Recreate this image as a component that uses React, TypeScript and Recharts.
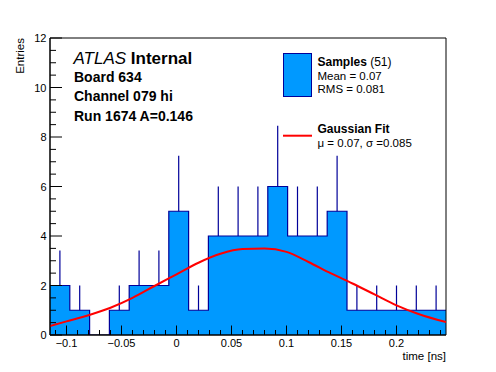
import {
  ComposedChart,
  Area,
  Line,
  Scatter,
  ErrorBar,
  XAxis,
  YAxis,
  ReferenceArea,
} from "recharts"

const FONT = "'Liberation Sans', Arial, Helvetica, sans-serif"
const FILL = "#0099ff"
const NAVY = "#000099"

/* histogram: 20 bins over [-0.115, 0.245] */
const binEdges = [
  -0.115, -0.097, -0.079, -0.061, -0.043, -0.025, -0.007, 0.011, 0.029, 0.047,
  0.065, 0.083, 0.101, 0.119, 0.137, 0.155, 0.173, 0.191, 0.209, 0.227, 0.245,
]
const binCounts = [2, 1, 0, 1, 2, 2, 5, 1, 4, 4, 4, 6, 4, 4, 5, 1, 1, 1, 1, 1]
const binErrUp = [
  1.41, 1, 0, 1, 1.41, 1.41, 2.24, 1, 2, 2, 2, 2.45, 2, 2, 2.24, 1, 1, 1, 1, 1,
]

/* gaussian fit curve */
const fitX = [
  -0.115, -0.1, -0.08, -0.06, -0.04, -0.02, 0, 0.02, 0.04, 0.06, 0.08, 0.1,
  0.12, 0.14, 0.16, 0.18, 0.2, 0.22, 0.245,
]
const fitY = [
  0.36, 0.55, 0.8, 1.1, 1.5, 1.98, 2.45, 2.92, 3.28, 3.47, 3.49, 3.36, 2.95,
  2.5, 2.08, 1.64, 1.2, 0.85, 0.52,
]

const xDomain = [-0.115, 0.245]
const yDomain = [0, 12]
const xMajorTicks = [-0.1, -0.05, 0, 0.05, 0.1, 0.15, 0.2]
const yMajorTicks = [0, 2, 4, 6, 8, 10, 12]

const xTicks: number[] = []
for (let i = -11; i <= 24; i++) xTicks.push(i / 100)
const yTicks: number[] = []
for (let i = 0; i <= 24; i++) yTicks.push(i / 2)

const histData = binEdges.map((x, i) => ({
  x,
  y: i < binCounts.length ? binCounts[i] : binCounts[binCounts.length - 1],
}))
const errData = binCounts.map((c, i) => ({
  x: (binEdges[i] + binEdges[i + 1]) / 2,
  y: c,
  err: [0, binErrUp[i]],
}))
const fitData = fitX.map((x, i) => ({ x, y: fitY[i] }))

const near = (a: number, list: number[]) =>
  list.some((b) => Math.abs(a - b) < 1e-6)
const fmt = (v: number) => (v < 0 ? "\u2212" + String(-v) : String(v))

function XTick(props: any) {
  const { x, y, payload } = props
  const major = near(payload.value, xMajorTicks)
  return (
    <g>
      <line x1={x} x2={x} y1={y} y2={y - (major ? 9.5 : 5)} stroke="#000" />
      {major && (
        <text x={x} y={y + 11.5} textAnchor="middle" fontSize={11} fontFamily={FONT} fill="#000">
          {fmt(payload.value)}
        </text>
      )}
    </g>
  )
}

function YTick(props: any) {
  const { x, y, payload } = props
  const major = near(payload.value, yMajorTicks)
  return (
    <g>
      <line x1={x} x2={x + (major ? 12 : 6)} y1={y} y2={y} stroke="#000" />
      {major && (
        <text x={x - 3.5} y={y + 4} textAnchor="end" fontSize={11} fontFamily={FONT} fill="#000">
          {payload.value}
        </text>
      )}
    </g>
  )
}

export default function App() {
  return (
    <div style={{ position: "absolute", left: 0, top: 0, width: 496, height: 372, background: "#fff" }}>
      <ComposedChart
        width={496}
        height={372}
        margin={{ top: 38, right: 50, bottom: 0, left: 10 }}
      >
        <XAxis
          type="number"
          dataKey="x"
          domain={xDomain}
          ticks={xTicks}
          interval={0}
          allowDataOverflow
          height={37}
          tickSize={0}
          tickMargin={0}
          tickLine={false}
          axisLine={{ stroke: "#000" }}
          tick={<XTick />}
        />
        <YAxis
          type="number"
          dataKey="y"
          domain={yDomain}
          ticks={yTicks}
          interval={0}
          allowDataOverflow
          width={40}
          tickSize={0}
          tickMargin={0}
          tickLine={false}
          axisLine={{ stroke: "#000" }}
          tick={<YTick />}
        />
        <Area
          data={histData}
          dataKey="y"
          type="stepAfter"
          fill={FILL}
          fillOpacity={1}
          stroke={NAVY}
          strokeWidth={1.2}
          dot={false}
          activeDot={false}
          isAnimationActive={false}
        />
        <Scatter data={errData} dataKey="y" shape={() => <g />} isAnimationActive={false}>
          <ErrorBar dataKey="err" direction="y" width={0} stroke={NAVY} strokeWidth={1.2} isAnimationActive={false} />
        </Scatter>
        <Line
          data={fitData}
          dataKey="y"
          type="monotone"
          stroke="#ff0000"
          strokeWidth={2}
          dot={false}
          activeDot={false}
          isAnimationActive={false}
        />
        <ReferenceArea
          x1={xDomain[0]}
          x2={xDomain[1]}
          y1={yDomain[0]}
          y2={yDomain[1]}
          fill="none"
          fillOpacity={0}
          stroke="#000"
          strokeWidth={1}
          ifOverflow="visible"
        />
      </ComposedChart>

      {/* labels, ATLAS text and legend */}
      <svg
        width={496}
        height={372}
        style={{ position: "absolute", left: 0, top: 0, pointerEvents: "none" }}
        fontFamily={FONT}
        fill="#000"
      >
        <text x={446} y={359.5} textAnchor="end" fontSize={11.5}>time [ns]</text>
        <text transform="translate(24 38) rotate(-90)" textAnchor="end" fontSize={11.5}>Entries</text>

        <text x={73.5} y={63.5} fontSize={17}>
          <tspan fontStyle="italic">ATLAS</tspan>
          <tspan fontWeight="bold"> Internal</tspan>
        </text>
        <text x={74} y={81.5} fontSize={14} fontWeight="bold">Board 634</text>
        <text x={74} y={101} fontSize={14} fontWeight="bold">Channel 079 hi</text>
        <text x={74} y={120.5} fontSize={14} fontWeight="bold">Run 1674 A=0.146</text>

        <rect x={283.5} y={53.5} width={28} height={43} fill={FILL} stroke={NAVY} strokeWidth={1} />
        <text x={317.5} y={66} fontSize={12}>
          <tspan fontWeight="bold">Samples</tspan>
          <tspan> (51)</tspan>
        </text>
        <text x={317.5} y={79.5} fontSize={11.5}>Mean = 0.07</text>
        <text x={317.5} y={93.3} fontSize={11.5}>RMS = 0.081</text>

        <line x1={283} x2={312} y1={135.7} y2={135.7} stroke="#ff0000" strokeWidth={2} />
        <text x={317.5} y={133} fontSize={12} fontWeight="bold">Gaussian Fit</text>
        <text x={317.5} y={146.5} fontSize={11.5}>{"\u03bc = 0.07, \u03c3 =0.085"}</text>
      </svg>
    </div>
  )
}
